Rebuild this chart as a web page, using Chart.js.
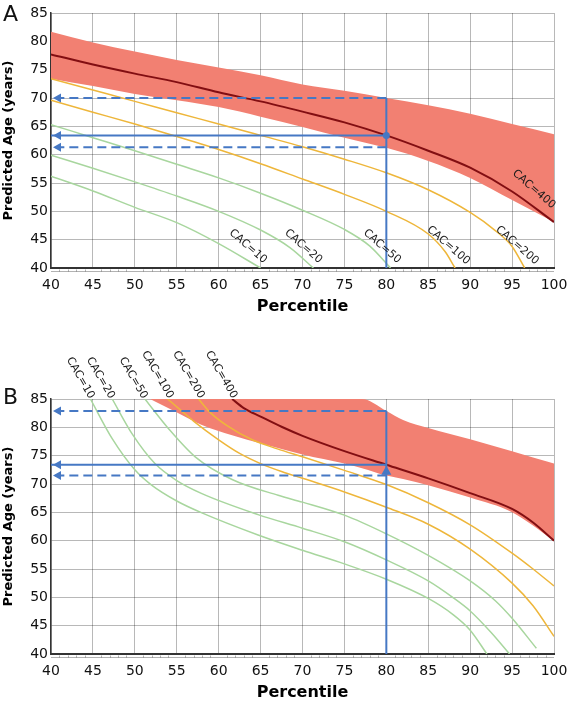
<!DOCTYPE html>
<html>
<head>
<meta charset="utf-8">
<script src="https://cdn.jsdelivr.net/npm/chart.js@4.4.1/dist/chart.umd.min.js"></script>
<style>
  body { margin: 0; background: #fff; width: 570px; height: 702px; overflow: hidden; position: relative; font-family: "DejaVu Sans", sans-serif; }
  .panel { position: absolute; left: 0; width: 570px; }
  #wrapA { top: 0; height: 316px; }
  #wrapB { top: 316px; height: 386px; }
  .tag { position: absolute; left: 3px; font-size: 22px; line-height: 22px; color: #111; }
</style>
</head>
<body>
<div class="panel" id="wrapA"><canvas id="chartA" width="570" height="316"></canvas></div>
<div class="panel" id="wrapB"><canvas id="chartB" width="570" height="386"></canvas></div>
<div class="tag" style="top:3px">A</div>
<div class="tag" style="top:386px">B</div>
<script>
// ---- panel A ----
const bandPctA = [40, 45, 50, 55, 60, 65, 70, 75, 80, 85, 90, 95, 100];
const bandHiA  = [81.7, 79.8, 78.2, 76.7, 75.4, 74.0, 72.4, 71.3, 70.0, 68.7, 67.2, 65.4, 63.6];
const bandLoA  = [73.4, 72.1, 70.7, 69.6, 68.4, 66.7, 64.9, 63.0, 61.2, 58.9, 55.9, 52.0, 48.1];
const cac400A  = [77.7, 75.9, 74.3, 72.8, 71.0, 69.4, 67.6, 65.7, 63.4, 60.7, 57.7, 53.5, 48.1];

const cac200PctA = [40, 45, 50, 55, 60, 65, 70, 75, 80, 85, 90, 93, 95, 96.5];
const cac200A    = [73.4, 71.4, 69.4, 67.4, 65.4, 63.4, 61.4, 59.2, 56.8, 53.8, 49.8, 46.6, 43.8, 40];
const cac100PctA = [40, 45, 50, 55, 60, 65, 70, 75, 80, 85, 87, 88.2];
const cac100A    = [69.6, 67.5, 65.4, 63.2, 60.9, 58.4, 55.7, 53.0, 50.0, 46.0, 42.9, 40];
const cac50PctA  = [40, 45, 50, 55, 60, 65, 70, 75, 78, 80.5];
const cac50A     = [65.3, 63.0, 60.7, 58.3, 55.9, 53.2, 50.2, 46.8, 43.9, 40];
const cac20PctA  = [40, 45, 50, 55, 60, 65, 68.5, 71.3];
const cac20A     = [59.9, 57.6, 55.2, 52.7, 50.0, 46.7, 43.6, 40];
const cac10PctA  = [40, 45, 50, 55, 60, 65];
const cac10A     = [56.2, 53.6, 50.7, 48.0, 44.3, 40];

// readout at the 80th percentile: [percentile, predicted, low, high]
const readA = [80, 63.4, 61.3, 70.0];

// ---- panel B ----
const bandPctB = [51.8, 54.8, 58, 61.6, 65.2, 70, 75, 77.1, 80, 82, 85, 90, 95, 100];
const bandHiB  = [85, 85, 85, 85, 85, 85, 85, 85, 82.9, 81.3, 79.9, 77.9, 75.8, 73.6];
const bandLoB  = [85, 82.8, 80.4, 78.6, 77.1, 75.2, 73.6, 72.8, 71.5, 70.9, 69.8, 67.6, 65.0, 60.0];

const cac400PctB = [61.6, 63, 65, 67.5, 70, 75, 80, 85, 90, 95, 97.5, 100];
const cac400B    = [85, 83.4, 81.9, 80.1, 78.5, 75.8, 73.4, 71.0, 68.4, 65.6, 63.2, 60.0];
const cac200PctB = [57.6, 59, 61, 64, 67, 70, 75, 80, 85, 90, 95, 97.5, 100];
const cac200B    = [85, 82.6, 80.3, 77.8, 76.2, 74.8, 72.4, 69.9, 66.7, 62.8, 57.8, 55.0, 52.0];
const cac100PctB = [53.9, 55.5, 57, 60, 62.5, 65, 67.5, 70, 75, 80, 85, 90, 95, 97.5, 100];
const cac100B    = [85, 83, 81.1, 77.8, 75.4, 73.6, 72.2, 71.0, 68.6, 65.9, 62.9, 58.5, 52.5, 48.5, 43.1];
const cac50PctB  = [51.2, 54, 57.2, 61.6, 67.1, 70, 75, 80, 85, 90, 93, 95, 97.9];
const cac50B     = [85, 79.8, 74.8, 70.8, 68.0, 66.8, 64.5, 61.2, 57.4, 52.9, 49.4, 46.3, 41];
const cac20PctB  = [47.3, 49.7, 52.4, 55, 58, 64.7, 70, 75, 80, 85, 88, 90, 92.5, 94.7];
const cac20B     = [85, 78.8, 73.6, 70.6, 68.3, 64.6, 62.2, 59.8, 56.6, 52.9, 49.9, 47.6, 43.8, 40];
const cac10PctB  = [44.7, 47.3, 50, 52, 55, 58, 64.7, 70, 75, 80, 85, 88, 90, 92];
const cac10B     = [85, 78.0, 72.5, 69.8, 67.0, 64.9, 61.0, 58.3, 55.9, 53.2, 49.8, 46.9, 44.2, 40];

const readB = [80, 73.4, 71.5, 82.9];

// curve labels
const labelText = ['CAC=10', 'CAC=20', 'CAC=50', 'CAC=100', 'CAC=200', 'CAC=400'];
const labelPctA = [63.5, 70.1, 79.5, 87.4, 95.6, 97.6];
const labelAgeA = [43.8, 43.8, 43.8, 44.0, 44.0, 53.9];
const labelPctB = [43.5, 45.9, 49.8, 52.7, 56.4, 60.3];
const labelAgeB = [88.7, 88.7, 88.7, 89.3, 89.3, 89.3];

const pct = [40, 45, 50, 55, 60, 65, 70, 75, 80, 85, 90, 95, 100];
const ageTicks = [40, 45, 50, 55, 60, 65, 70, 75, 80, 85];

const SALMON = 'rgb(242,128,114)';
const DARKRED = 'rgb(130,14,18)';
const ORANGE = 'rgb(238,182,58)';
const GREEN = 'rgb(168,214,158)';
const BLUE = 'rgb(70,120,196)';

function pts(xs, ys) { return xs.map((p, i) => ({ x: p, y: ys[i] })); }

function curve(xs, ys, color, w, order) {
  return { data: pts(xs, ys), borderColor: color, borderWidth: w, pointRadius: 0,
           fill: false, cubicInterpolationMode: 'monotone', order: order };
}

function readout(r, upArrow) {
  const [p, age, lo, hi] = r;
  const ds = [
    { data: [{x: p, y: hi}, {x: 40, y: hi}], borderDash: [9, 5] },
    { data: [{x: p, y: lo}, {x: 40, y: lo}], borderDash: [9, 5] },
    { data: [{x: p, y: age}, {x: 40, y: age}] },
    { data: [{x: p, y: 40}, {x: p, y: hi}] }
  ].map(d => Object.assign(d, { borderColor: BLUE, borderWidth: 2, pointRadius: 0, fill: false, order: 0 }));
  if (!upArrow) {
    ds.push({ data: [{x: p, y: age}], showLine: false, pointRadius: 3.5,
              pointBackgroundColor: BLUE, pointBorderWidth: 0, order: 0 });
  }
  return ds;
}

const extras = {
  id: 'extras',
  afterDatasetsDraw(chart, args, o) {
    const { ctx, scales: { x, y }, chartArea } = chart;
    ctx.save();
    // second thin rule under the x axis, with small minor ticks
    ctx.strokeStyle = 'rgba(0,0,0,0.3)';
    ctx.lineWidth = 1;
    const yb = chartArea.bottom + 3.5;
    ctx.beginPath();
    ctx.moveTo(chartArea.left, yb);
    ctx.lineTo(chartArea.right, yb);
    for (let v = 41; v < 100; v++) {
      if (v % 5 === 0) continue;
      const px = Math.round(x.getPixelForValue(v)) + 0.5;
      ctx.moveTo(px, yb - 2);
      ctx.lineTo(px, yb);
    }
    ctx.stroke();
    // arrow heads
    ctx.fillStyle = BLUE;
    const x0 = x.getPixelForValue(40) + 2;
    [o.read[1], o.read[2], o.read[3]].forEach(v => {
      const py = y.getPixelForValue(v);
      ctx.beginPath();
      ctx.moveTo(x0, py);
      ctx.lineTo(x0 + 8, py - 4.5);
      ctx.lineTo(x0 + 8, py + 4.5);
      ctx.closePath();
      ctx.fill();
    });
    if (o.up) {
      const px = x.getPixelForValue(o.read[0]);
      const py = y.getPixelForValue(o.read[1]) + 1;
      ctx.beginPath();
      ctx.moveTo(px, py);
      ctx.lineTo(px - 5, py + 9);
      ctx.lineTo(px + 5, py + 9);
      ctx.closePath();
      ctx.fill();
    }
    // curve labels
    ctx.fillStyle = '#1a1a1a';
    ctx.font = '11px "DejaVu Sans"';
    ctx.textAlign = 'center';
    ctx.textBaseline = 'middle';
    labelText.forEach((t, i) => {
      ctx.save();
      ctx.translate(x.getPixelForValue(o.lp[i]), y.getPixelForValue(o.la[i]));
      ctx.rotate(o.angle * Math.PI / 180);
      ctx.fillText(t, 0, 0);
      ctx.restore();
    });
    ctx.restore();
  }
};

function makeChart(id, datasets, topPad, plug) {
  return new Chart(document.getElementById(id), {
    type: 'line',
    data: { datasets: datasets },
    plugins: [extras],
    options: {
      responsive: false, animation: false, devicePixelRatio: 1,
      layout: { padding: { top: topPad, right: 16, left: 0, bottom: 0 } },
      plugins: { legend: { display: false }, tooltip: { enabled: false }, extras: plug },
      scales: {
        x: {
          type: 'linear', min: 40, max: 100,
          afterBuildTicks: s => { s.ticks = pct.map(v => ({ value: v })); },
          afterFit: s => { s.height = 48; s.paddingLeft = 0; s.paddingRight = 0; },
          ticks: { color: '#111', font: { family: 'DejaVu Sans', size: 14 }, padding: 9, maxRotation: 0 },
          grid: { color: 'rgba(0,0,0,0.28)', drawTicks: false },
          border: { color: '#333', width: 2 },
          title: { display: true, text: 'Percentile', color: '#000', padding: 0,
                   font: { family: 'DejaVu Sans', size: 16, weight: 'bold', lineHeight: 1.2 } }
        },
        y: {
          type: 'linear', min: 40, max: 85,
          afterBuildTicks: s => { s.ticks = ageTicks.map(v => ({ value: v })); },
          afterFit: s => { s.width = 51; s.paddingTop = 0; s.paddingBottom = 0; },
          ticks: { color: '#111', font: { family: 'DejaVu Sans', size: 14 }, padding: 3 },
          grid: { color: 'rgba(0,0,0,0.28)', drawTicks: false },
          border: { color: '#333', width: 1.5 },
          title: { display: true, text: 'Predicted Age (years)', color: '#000', padding: { top: 1, bottom: 0 },
                   font: { family: 'DejaVu Sans', size: 13, weight: 'bold', lineHeight: 1.2 } }
        }
      }
    }
  });
}

const band = (xs, hi, lo) => [
  { data: pts(xs, hi), borderWidth: 0, pointRadius: 0, backgroundColor: SALMON, fill: '+1',
    cubicInterpolationMode: 'monotone', order: 9 },
  { data: pts(xs, lo), borderWidth: 0, pointRadius: 0, fill: false,
    cubicInterpolationMode: 'monotone', order: 9 }
];

makeChart('chartA', [
  ...band(bandPctA, bandHiA, bandLoA),
  curve(cac10PctA, cac10A, GREEN, 1.5, 3),
  curve(cac20PctA, cac20A, GREEN, 1.5, 3),
  curve(cac50PctA, cac50A, GREEN, 1.5, 3),
  curve(cac100PctA, cac100A, ORANGE, 1.5, 3),
  curve(cac200PctA, cac200A, ORANGE, 1.5, 3),
  curve(bandPctA, cac400A, DARKRED, 2, 2),
  ...readout(readA, false)
], 13, { read: readA, up: false, lp: labelPctA, la: labelAgeA, angle: 41 });

makeChart('chartB', [
  ...band(bandPctB, bandHiB, bandLoB),
  curve(cac10PctB, cac10B, GREEN, 1.5, 3),
  curve(cac20PctB, cac20B, GREEN, 1.5, 3),
  curve(cac50PctB, cac50B, GREEN, 1.5, 3),
  curve(cac100PctB, cac100B, ORANGE, 1.5, 3),
  curve(cac200PctB, cac200B, ORANGE, 1.5, 3),
  curve(cac400PctB, cac400B, DARKRED, 2, 2),
  ...readout(readB, true)
], 83, { read: readB, up: true, lp: labelPctB, la: labelAgeB, angle: 60 });
</script>
</body>
</html>
